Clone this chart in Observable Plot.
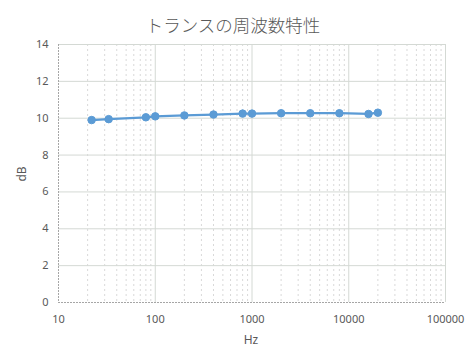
<!DOCTYPE html>
<html>
<head>
<meta charset="utf-8">
<script src="https://cdn.jsdelivr.net/npm/d3@7"></script>
<script src="https://cdn.jsdelivr.net/npm/@observablehq/plot@0.6"></script>
<style>
  html, body { margin: 0; padding: 0; background: #fff; }
  #chart { width: 469px; height: 358px; }
</style>
</head>
<body>
<div id="chart"></div>
<script>
const title = "トランスの周波数特性";
const freq = [22, 33, 80, 100, 200, 400, 800, 1000, 2000, 4000, 8000, 16000, 20000];
const gain = [9.9, 9.95, 10.05, 10.1, 10.15, 10.2, 10.25, 10.25, 10.27, 10.27, 10.27, 10.23, 10.3];
const xTicks = [10, 100, 1000, 10000, 100000];
const yTicks = [0, 2, 4, 6, 8, 10, 12, 14];
const minorMult = [2, 3, 4, 5, 6, 7, 8, 9];

const data = freq.map((f, i) => ({f, g: gain[i]}));
const minor = xTicks.slice(0, -1).flatMap(d => minorMult.map(m => d * m));

const gridColor = "#d4d9d4";
const textColor = "#595959";

const plot = Plot.plot({
  width: 469,
  height: 358,
  marginLeft: 58,
  marginRight: 24,
  marginTop: 44,
  marginBottom: 56,
  style: {fontFamily: "'Noto Sans', 'DejaVu Sans', sans-serif", fontSize: "11px", color: textColor, background: "#fff"},
  x: {type: "log", domain: [10, 100000], label: null},
  y: {domain: [0, 14], label: null},
  marks: [
    Plot.ruleX(minor, {stroke: "#d9d9d9", strokeDasharray: "2,3", strokeWidth: 1}),
    Plot.ruleY(yTicks.slice(1), {stroke: gridColor, strokeWidth: 1}),
    Plot.ruleX(xTicks.slice(1), {stroke: gridColor, strokeWidth: 1}),
    Plot.ruleX([10], {stroke: "#a6a6a6", strokeDasharray: "2,1", strokeWidth: 1}),
    Plot.ruleY([0], {stroke: "#a6a6a6", strokeDasharray: "2,1", strokeWidth: 1}),
    Plot.axisX({ticks: xTicks, tickFormat: d => String(d), tickSize: 0, tickPadding: 13, fill: textColor, fontSize: 11, label: null}),
    Plot.axisY({ticks: yTicks, tickSize: 0, tickPadding: 10, fill: textColor, fontSize: 11, label: null}),
    Plot.line(data, {x: "f", y: "g", stroke: "#5b9bd5", strokeWidth: 2.25}),
    Plot.dot(data, {x: "f", y: "g", r: 3.75, fill: "#5b9bd5", stroke: "#5b9bd5", strokeWidth: 1})
  ]
});

const svg = d3.select(plot);
svg.append("text")
  .attr("x", 233).attr("y", 32)
  .attr("text-anchor", "middle")
  .attr("fill", textColor)
  .style("font-family", "'Noto Sans CJK JP', sans-serif")
  .style("font-weight", "300")
  .style("font-size", "17.5px")
  .text(title);
svg.append("text")
  .attr("x", 251).attr("y", 344)
  .attr("text-anchor", "middle")
  .attr("fill", textColor)
  .style("font-size", "12px")
  .text("Hz");
svg.append("text")
  .attr("transform", "translate(26,174) rotate(-90)")
  .attr("text-anchor", "middle")
  .attr("fill", textColor)
  .style("font-size", "12px")
  .text("dB");

document.getElementById("chart").appendChild(plot);
</script>
</body>
</html>
